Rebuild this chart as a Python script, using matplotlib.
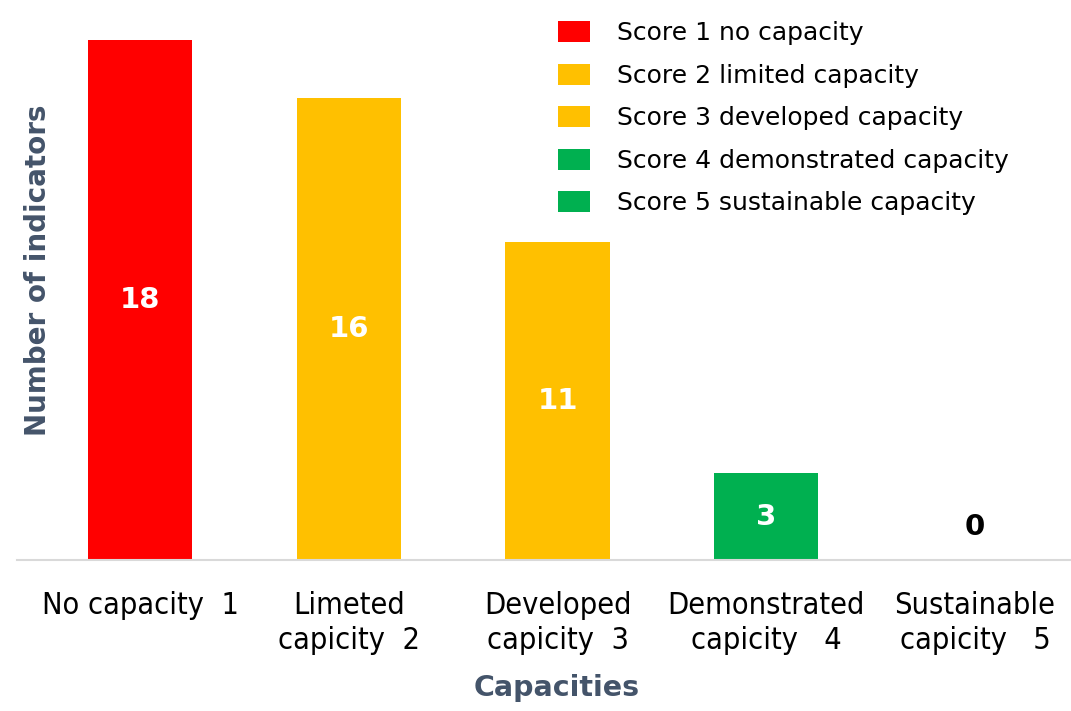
import matplotlib.pyplot as plt
from matplotlib.patches import Patch
import numpy as np

categories = ['No capacity  1', 'Limeted\ncapicity  2', 'Developed\ncapicity  3',
              'Demonstrated\ncapicity   4', 'Sustainable\ncapicity   5']
counts = [18, 16, 11, 3, 0]
bar_colors = ['#FF0000', '#FFC000', '#FFC000', '#00B050', '#00B050']
legend_labels = ['Score 1 no capacity', 'Score 2 limited capacity', 'Score 3 developed capacity',
                 'Score 4 demonstrated capacity', 'Score 5 sustainable capacity']
legend_colors = ['#FF0000', '#FFC000', '#FFC000', '#00B050', '#00B050']

plt.rcParams['font.family'] = ['DejaVu Sans']
title_color = '#44546A'

fig = plt.figure(figsize=(10.71, 7.11), dpi=100)
ax = fig.add_axes([17 / 1071, 151 / 711, 1 - 17 / 1071, 560 / 711])

x = np.arange(len(categories))
bars = ax.bar(x, counts, 0.5, color=bar_colors)

ax.set_xlim(-0.59, 4.46)
ax.set_ylim(0, 19.38)

# value labels inside the bars, 0 sits above the axis
for i, v in enumerate(counts):
    if v > 0:
        ax.text(i, v / 2, str(v), ha='center', va='center', color='white',
                fontsize=21, fontweight='bold')
    else:
        ax.text(i, 1.15, str(v), ha='center', va='center', color='black',
                fontsize=21, fontweight='bold')

ax.set_xticks(x)
ax.set_xticklabels(categories, fontsize=22, stretch='condensed',
                   family=['Liberation Sans Narrow', 'DejaVu Sans'], linespacing=1.3)
ax.tick_params(axis='x', length=0, pad=22)
ax.set_yticks([])

for s in ['top', 'right', 'left']:
    ax.spines[s].set_visible(False)
ax.spines['bottom'].set_color('#D9D9D9')
ax.spines['bottom'].set_linewidth(1.5)

fig.text(557 / 1071, 1 - 688 / 711, 'Capacities', ha='center', va='center',
         fontsize=20.5, fontweight='bold', color=title_color)
fig.text(38 / 1071, 1 - 270 / 711, 'Number of indicators', ha='center', va='center',
         rotation=90, fontsize=20, fontweight='bold', color=title_color)

handles = [Patch(facecolor=c) for c in legend_colors]
ax.legend(handles, legend_labels, loc='upper left', bbox_to_anchor=(0.497, 0.993),
          frameon=False, fontsize=18, handlelength=1.25, handleheight=0.9,
          labelspacing=0.74, handletextpad=1.1, borderaxespad=0.3)

plt.savefig('out.png', dpi=100)
